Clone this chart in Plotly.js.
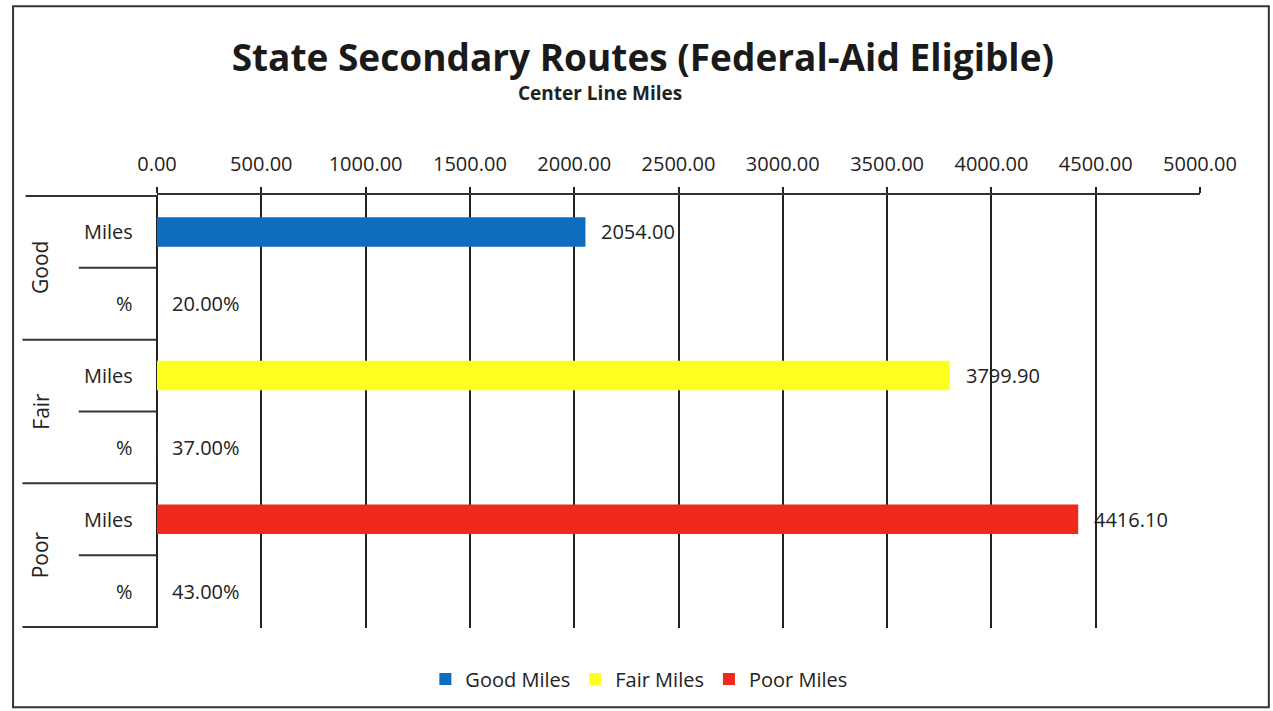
<!DOCTYPE html>
<html>
<head>
<meta charset="utf-8">
<script src="https://cdn.plot.ly/plotly-3.0.1.min.js"></script>
<style>html,body{margin:0;padding:0;background:#fff;}#chart{width:1273px;height:711px;}</style>
</head>
<body>
<div id="chart"></div>
<script>
// ---- data ----
const groups = ["Good", "Fair", "Poor"];
const rowLabels = ["Miles", "%"];
const miles = [2054.00, 3799.90, 4416.10];
const percents = [0.20, 0.37, 0.43];
const seriesNames = ["Good Miles", "Fair Miles", "Poor Miles"];
const seriesColors = ["#0E6DBE", "#FFFF1F", "#EF2A1C"];
const xTicks = [0, 500, 1000, 1500, 2000, 2500, 3000, 3500, 4000, 4500, 5000];

const FONT = "Open Sans, Noto Sans, sans-serif";
const keys = [];
groups.forEach(g => rowLabels.forEach(r => keys.push(g + " " + r)));

const traces = groups.map((g, i) => ({
  type: "bar",
  orientation: "h",
  name: seriesNames[i],
  y: [g + " " + rowLabels[0], g + " " + rowLabels[1]],
  x: [miles[i], percents[i]],
  width: 0.41,
  marker: {color: seriesColors[i], line: {width: 0}},
  hoverinfo: "x+y"
}));

const annotations = [];
groups.forEach((g, i) => {
  annotations.push({x: miles[i], y: g + " Miles", xref: "x", yref: "y", text: miles[i].toFixed(2),
    xanchor: "left", xshift: 14, showarrow: false, font: {family: FONT, size: 20, color: "#222"}});
  annotations.push({x: percents[i], y: g + " %", xref: "x", yref: "y", text: (percents[i] * 100).toFixed(2) + "%",
    xanchor: "left", xshift: 13, showarrow: false, font: {family: FONT, size: 20, color: "#222"}});
  rowLabels.forEach(r => {
    annotations.push({x: -0.021, xref: "paper", y: g + " " + r, yref: "y", text: r, xanchor: "right",
      showarrow: false, font: {family: FONT, size: 20, color: "#222"}});
  });
  annotations.push({x: -0.112, xref: "paper", y: i * 2 + 0.5, yref: "y", text: g, textangle: -90,
    xanchor: "center", yanchor: "middle",
    showarrow: false, font: {family: FONT, size: 21, color: "#222"}});
});
annotations.push({x: 0.425, y: 1.236, xref: "paper", yref: "paper", text: "<b>Center Line Miles</b>",
  xanchor: "center", yanchor: "middle",
  showarrow: false, font: {family: FONT, size: 19, color: "#222"}});

const shapes = [];
const lineC = "#333";
// group boundaries
[-0.5, 1.5, 3.5, 5.5].forEach((b, k) => {
  shapes.push({type: "line", xref: "paper", yref: "y", x0: k === 0 ? -0.126 : -0.129, x1: 0, y0: b, y1: b,
    line: {color: lineC, width: 2}});
});
// row dividers
[0.5, 2.5, 4.5].forEach(b => {
  shapes.push({type: "line", xref: "paper", yref: "y", x0: -0.075, x1: 0, y0: b, y1: b,
    line: {color: lineC, width: 2}});
});
// outer frame
shapes.push({type: "rect", xref: "paper", yref: "paper", x0: -0.138, x1: 1.066, y0: -0.183, y1: 1.436,
  line: {color: "#333", width: 2}});

const layout = {
  width: 1273, height: 711,
  paper_bgcolor: "#fff", plot_bgcolor: "#fff",
  margin: {l: 157, r: 73, t: 195, b: 83},
  barmode: "overlay",
  showlegend: true,
  title: {text: "<b>State Secondary Routes (Federal-Aid Eligible)</b>", x: 0.505, xref: "container",
    y: 0.918, yref: "container", yanchor: "middle", font: {family: FONT, size: 37, color: "#1a1a1a"}},
  xaxis: {
    side: "top", range: [0, 5000], tickvals: xTicks, tickformat: ".2f",
    showgrid: true, gridcolor: "#222", gridwidth: 2,
    zeroline: true, zerolinecolor: "#222", zerolinewidth: 2,
    showline: true, linecolor: "#333", linewidth: 2,
    ticks: "outside", ticklen: 6, tickcolor: "#222", tickwidth: 2,
    ticklabelstandoff: 8,
    tickfont: {family: FONT, size: 20, color: "#222"},
    fixedrange: true
  },
  yaxis: {
    type: "category", categoryorder: "array", categoryarray: keys,
    autorange: "reversed", showticklabels: false, showgrid: false, zeroline: false,
    showline: false, ticks: "", fixedrange: true
  },
  legend: {orientation: "h", x: 0.462, xanchor: "center", y: -0.118, yanchor: "middle",
    font: {family: FONT, size: 20, color: "#222"}, itemclick: false, itemdoubleclick: false},
  annotations: annotations,
  shapes: shapes
};

Plotly.newPlot("chart", traces, layout, {displayModeBar: false, staticPlot: true});
</script>
</body>
</html>
